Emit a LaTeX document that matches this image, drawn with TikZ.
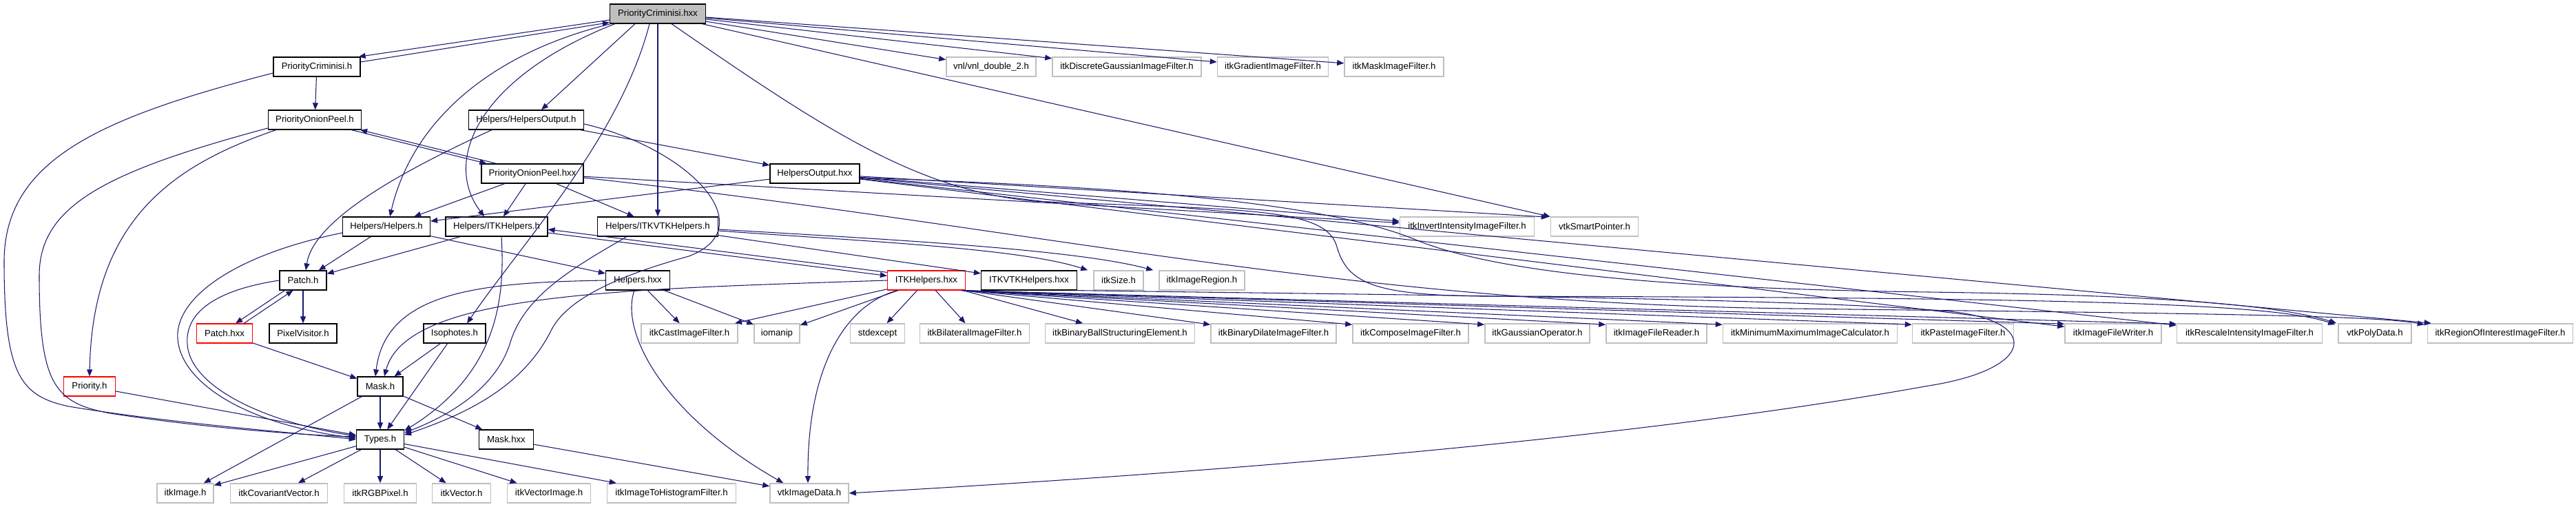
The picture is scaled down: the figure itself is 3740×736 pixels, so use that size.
\documentclass[tikz,border=0pt]{standalone}
\usepackage{fontspec}
\setmainfont{Liberation Sans}
\usetikzlibrary{arrows.meta,calc}
\definecolor{edgec}{HTML}{191970}
\definecolor{grayb}{HTML}{BFBFBF}
\newcommand\mknode[5]{\node[#1,minimum width=#4*0.02cm] (#2) at (#3) {#5};}
\begin{document}
\begin{tikzpicture}[x=0.02cm,y=-0.02cm,font=\fontsize{7.5}{9}\selectfont,
  nodebox/.style={draw, minimum height=0.56cm, inner sep=0pt, fill=white, line width=0.7pt},
  nb/.style={nodebox, draw=black},
  ext/.style={nodebox, draw=grayb, line width=0.9pt},
  trunc/.style={nodebox, draw=red},
  root/.style={nodebox, draw=black, fill=grayb},
  e/.style={draw=edgec, line width=0.6pt, -{Triangle[length=0.2cm,width=0.16cm]}}]
\useasboundingbox (0,0) rectangle (3740,736);
% nodes
\mknode{root}{pcx}{955,20}{139}{PriorityCriminisi.hxx}
\mknode{nb}{pc}{460,97}{126}{PriorityCriminisi.h}
\mknode{ext}{vnl}{1439,97}{130}{vnl/vnl\_double\_2.h}
\mknode{ext}{dgauss}{1636,97}{216}{itkDiscreteGaussianImageFilter.h}
\mknode{ext}{grad}{1848,97}{161}{itkGradientImageFilter.h}
\mknode{ext}{maskf}{2024,97}{144}{itkMaskImageFilter.h}
\mknode{nb}{pop}{457,174}{135}{PriorityOnionPeel.h}
\mknode{nb}{ho}{764,174}{167}{Helpers/HelpersOutput.h}
\mknode{nb}{popx}{773,252}{148}{PriorityOnionPeel.hxx}
\mknode{nb}{hox}{1183,252}{130}{HelpersOutput.hxx}
\mknode{nb}{hh}{561,329}{127}{Helpers/Helpers.h}
\mknode{nb}{ih}{721,329}{148}{Helpers/ITKHelpers.h}
\mknode{nb}{ivh}{955,329}{175}{Helpers/ITKVTKHelpers.h}
\mknode{ext}{inv}{2130,329}{195}{itkInvertIntensityImageFilter.h}
\mknode{ext}{vsp}{2315,329}{127}{vtkSmartPointer.h}
\mknode{nb}{patch}{440,407}{68}{Patch.h}
\mknode{nb}{hx}{926,407}{93}{Helpers.hxx}
\mknode{trunc}{ihx}{1345,407}{113}{ITKHelpers.hxx}
\mknode{nb}{ivhx}{1494,407}{139}{ITKVTKHelpers.hxx}
\mknode{ext}{size}{1624,407}{72}{itkSize.h}
\mknode{ext}{region}{1745,407}{124}{itkImageRegion.h}
\mknode{trunc}{patchx}{326,484}{81}{Patch.hxx}
\mknode{nb}{pv}{440,484}{98}{PixelVisitor.h}
\mknode{nb}{iso}{660,484}{90}{Isophotes.h}
\mknode{ext}{cast}{1001,484}{140}{itkCastImageFilter.h}
\mknode{ext}{iomanip}{1128,484}{66}{iomanip}
\mknode{ext}{stdexc}{1274,484}{79}{stdexcept}
\mknode{ext}{bilat}{1415,484}{159}{itkBilateralImageFilter.h}
\mknode{ext}{ball}{1626,484}{217}{itkBinaryBallStructuringElement.h}
\mknode{ext}{dilate}{1849,484}{182}{itkBinaryDilateImageFilter.h}
\mknode{ext}{compose}{2048,484}{168}{itkComposeImageFilter.h}
\mknode{ext}{gop}{2232,484}{152}{itkGaussianOperator.h}
\mknode{ext}{reader}{2405,484}{146}{itkImageFileReader.h}
\mknode{ext}{minmax}{2628,484}{253}{itkMinimumMaximumImageCalculator.h}
\mknode{ext}{paste}{2850,484}{147}{itkPasteImageFilter.h}
\mknode{ext}{writer}{3068,484}{140}{itkImageFileWriter.h}
\mknode{ext}{rescale}{3266,484}{211}{itkRescaleIntensityImageFilter.h}
\mknode{ext}{poly}{3448,484}{106}{vtkPolyData.h}
\mknode{ext}{roi}{3630,484}{211}{itkRegionOfInterestImageFilter.h}
\mknode{trunc}{prio}{130,561}{75}{Priority.h}
\mknode{nb}{mask}{552,561}{66}{Mask.h}
\mknode{nb}{types}{552,638}{69}{Types.h}
\mknode{nb}{maskx}{735,638}{79}{Mask.hxx}
\mknode{ext}{image}{269,716}{82}{itkImage.h}
\mknode{ext}{covar}{405,716}{141}{itkCovariantVector.h}
\mknode{ext}{rgb}{552,716}{105}{itkRGBPixel.h}
\mknode{ext}{vec}{670,716}{85}{itkVector.h}
\mknode{ext}{vecimg}{797,716}{121}{itkVectorImage.h}
\mknode{ext}{hist}{975,716}{187}{itkImageToHistogramFilter.h}
\mknode{ext}{vid}{1175,716}{114}{vtkImageData.h}
% edges from PriorityCriminisi.hxx
\draw[e] ($(pcx.west)+(0,9)$) -- ($(pc.north east)+(-3,0)$);
\draw[e] ($(pc.east)+(0,-7)$) -- ($(pcx.south west)+(0,-2)$);
\draw[e] ($(pcx.south west)+(2,0)$) .. controls (720,75) and (600,170) .. ($(hh.north)+(5,0)$);
\draw[e] ($(pcx.south west)+(8,0)$) .. controls (700,110) and (640,230) .. ($(ih.north)+(-18,0)$);
\draw[e] ($(pcx.south)+(-33,0)$) -- ($(ho.north)+(22,0)$);
\draw[e] ($(pcx.south)+(-12,0)$) .. controls (900,200) and (760,350) .. ($(iso.north)+(18,0)$);
\draw[e] (pcx) -- (ivh);
\draw[e] (pcx) -- (vnl);
\draw[e] (pcx) -- (dgauss);
\draw[e] (pcx) -- (grad);
\draw[e] (pcx) -- (maskf);
\draw[e] (pcx) -- (vsp);
\draw[e] ($(pcx.south)+(20,0)$) .. controls (1200,190) and (1330,275) .. (1500,292)
   .. controls (1800,305) and (1920,300) .. (1940,355)
   .. controls (1955,410) and (1990,428) .. (2150,430)
   .. controls (3000,432) and (3300,440) .. ($(poly.north west)+(-4,2)$);
% PriorityCriminisi.h
\draw[e] (pc) -- (pop);
\draw[e] ($(pc.west)+(0,9)$) .. controls (150,170) and (6,230) .. (6,380)
   .. controls (6,545) and (30,575) .. (100,590)
   .. controls (250,615) and (450,630) .. (types.west);
% PriorityOnionPeel.h
\draw[e] ($(pop.west)+(0,12)$) .. controls (150,250) and (57,300) .. (57,400)
   .. controls (57,560) and (80,585) .. (160,600)
   .. controls (300,622) and (450,632) .. ($(types.west)+(0,-4)$);
\draw[e] ($(pop.south west)+(12,0)$) .. controls (250,240) and (134,320) .. (prio.north);
\draw[e] ($(pop.south east)+(-15,0)$) -- ($(popx.north west)+(8,0)$);
\draw[e] ($(popx.north west)+(22,0)$) -- ($(pop.south east)+(-2,0)$);
% PriorityOnionPeel.hxx
\draw[e] (popx) -- (hh);
\draw[e] (popx) -- (ih);
\draw[e] (popx) -- (ivh);
\draw[e] (popx) -- (inv);
\draw[e] ($(popx.east)+(0,6)$) .. controls (1500,330) and (1950,440) .. (2600,448)
   .. controls (3200,455) and (3450,458) .. ($(roi.north west)+(-4,2)$);
% HelpersOutput.h
\draw[e] (ho) -- (hox);
\draw[e] ($(ho.south)+(-50,0)$) .. controls (580,250) and (455,320) .. ($(patch.north)+(4,0)$);
\draw[e] ($(ho.east)+(0,6)$) .. controls (1000,215) and (1110,330) .. (1000,372)
   .. controls (880,405) and (820,440) .. (800,480)
   .. controls (760,560) and (680,600) .. ($(types.north east)+(0,8)$);
% HelpersOutput.hxx
\draw[e] (hox) -- (hh);
\draw[e] (hox) -- ($(vsp.north west)+(-3,1)$);
\draw[e] (hox) -- (inv);
\draw[e] (hox) -- ($(roi.north west)+(6,0)$);
\draw[e] (hox) -- ($(writer.north west)+(0,5)$);
\draw[e] (hox) -- ($(rescale.north west)+(0,3)$);
\draw[e] ($(hox.east)+(0,6)$) .. controls (1600,270) and (1920,290) .. (2060,350)
   .. controls (2200,405) and (2500,420) .. (2800,424)
   .. controls (3100,428) and (3300,440) .. ($(poly.north west)+(-2,0)$);
% Helpers.h
\draw[e] (hh) -- (patch);
\draw[e] (hh) -- (hx);
\draw[e] ($(hh.west)+(0,9)$) .. controls (340,370) and (262,430) .. (258,483)
   .. controls (254,550) and (350,615) .. ($(types.west)+(0,-2)$);
% Patch.h
\draw[e] (patch.west) .. controls (320,420) and (268,450) .. (272,500)
   .. controls (276,560) and (380,612) .. ($(types.west)+(0,-5)$);
\draw[e] ($(patch.south west)+(8,0)$) -- ($(patchx.north east)+(-25,0)$);
\draw[e] ($(patchx.north east)+(-13,0)$) -- ($(patch.south west)+(20,0)$);
\draw[e] (patch) -- (pv);
% ITKHelpers.h
\draw[e] (ih) -- (patch);
\draw[e] ($(ih.south)+(7,0)$) .. controls (733,430) and (725,540) .. ($(types.north east)+(0,2)$);
\draw[e] ($(ihx.north west)+(0,3)$) -- ($(ih.east)+(0,4)$);
\draw[e] ($(ih.east)+(0,9)$) -- ($(ihx.north west)+(0,8)$);
% ITKVTKHelpers.h
\draw[e] (ivh) -- (ivhx);
\draw[e] ($(ivh.east)+(0,6)$) .. controls (1250,350) and (1480,360) .. ($(size.north west)+(-8,0)$);
\draw[e] ($(ivh.east)+(0,4)$) .. controls (1300,348) and (1560,362) .. ($(region.north west)+(-8,0)$);
\draw[e] ($(ivh.south west)+(43,0)$) .. controls (830,390) and (760,430) .. (740,500)
   .. controls (720,560) and (660,600) .. ($(types.north east)+(0,5)$);
% Helpers.hxx
\draw[e] (hx.west) .. controls (700,410) and (560,422) .. ($(mask.north)+(-7,0)$);
\draw[e] (hx) -- (cast);
\draw[e] (hx) -- (iomanip);
\draw[e] ($(hx.south)+(-5,0)$) .. controls (900,480) and (960,600) .. ($(vid.north west)+(20,0)$);
% ITKHelpers.hxx
\draw[e] (ihx.west) .. controls (900,420) and (590,425) .. ($(mask.north)+(6,0)$);
\draw[e] (ihx) -- (cast);
\draw[e] (ihx) -- (iomanip);
\draw[e] ($(ihx.south west)+(15,0)$) .. controls (1235,440) and (1172,520) .. ($(vid.north)+(-2,0)$);
\draw[e] (ihx) -- (stdexc);
\draw[e] (ihx) -- (bilat);
\draw[e] (ihx) -- (ball);
\draw[e] ($(ihx.south east)+(-3,0)$) -- ($(dilate.north west)+(0,2)$);
\draw[e] ($(ihx.south east)+(-4,0)$) -- ($(compose.north west)+(0,2)$);
\draw[e] ($(ihx.south east)+(-4,0)$) -- ($(gop.north west)+(0,2)$);
\draw[e] ($(ihx.south east)+(-5,0)$) -- ($(reader.north west)+(0,2)$);
\draw[e] ($(ihx.south east)+(-5,0)$) -- ($(minmax.north west)+(0,2)$);
\draw[e] ($(ihx.south east)+(-6,0)$) -- ($(paste.north west)+(0,2)$);
\draw[e] ($(ihx.south east)+(-6,0)$) -- ($(writer.north west)+(0,1)$);
\draw[e] ($(ihx.south east)+(-7,0)$) -- ($(rescale.north west)+(0,1)$);
% ITKVTKHelpers.hxx
\draw[e] ($(ivhx.south east)+(-2,0)$) .. controls (2000,428) and (2600,432) .. (2830,452)
   .. controls (2960,465) and (2960,535) .. (2800,560)
   .. controls (2300,650) and (1600,695) .. (vid.east);
% lower part
\draw[e] (iso) -- (mask);
\draw[e] (iso) -- (types);
\draw[e] (patchx) -- (mask);
\draw[e] (mask) -- (types);
\draw[e] (mask) -- (maskx);
\draw[e] (mask) -- (image);
\draw[e] (maskx) -- (vid);
\draw[e] (prio) -- (types);
\draw[e] (types) -- (image);
\draw[e] (types) -- (covar);
\draw[e] (types) -- (rgb);
\draw[e] (types) -- (vec);
\draw[e] (types) -- (vecimg);
\draw[e] (types) -- (hist);
\end{tikzpicture}
\end{document}
